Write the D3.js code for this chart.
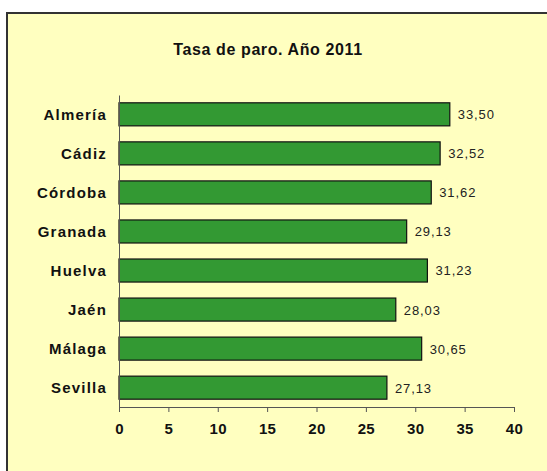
<!DOCTYPE html>
<html><head><meta charset="utf-8">
<script src="https://cdn.jsdelivr.net/npm/d3@7"></script>
<style>body{margin:0;background:#fff;}svg{display:block;font-family:"Liberation Sans",Arial,sans-serif;}</style>
</head><body>
<svg id="c" width="547" height="471"></svg>
<script>
const categories = ["Almería","Cádiz","Córdoba","Granada","Huelva","Jaén","Málaga","Sevilla"];
const values = [33.50, 32.52, 31.62, 29.13, 31.23, 28.03, 30.65, 27.13];
const valueLabels = ["33,50","32,52","31,62","29,13","31,23","28,03","30,65","27,13"];
const xTicks = [0,5,10,15,20,25,30,35,40];
const title = "Tasa de paro. Año 2011";

const svg = d3.select("#c");
// frame
svg.append("rect").attr("x",7).attr("y",13).attr("width",560).attr("height",480)
  .attr("fill","#ffffc0").attr("stroke","#333").attr("stroke-width",2);

const x = d3.scaleLinear().domain([0,40]).range([119,514]);
const y = d3.scaleBand().domain(categories).range([95,407]).paddingInner(0.41).paddingOuter(0.2);

svg.append("text").attr("x",268).attr("y",55).attr("text-anchor","middle")
  .attr("font-size",16).attr("font-weight","bold").attr("letter-spacing",0.6).attr("fill","#111").text(title);

// bars
svg.selectAll("rect.bar").data(values).enter().append("rect").attr("class","bar")
  .attr("x",x(0)).attr("y",(d,i)=>y(categories[i]))
  .attr("width",d=>x(d)-x(0)).attr("height",y.bandwidth())
  .attr("fill","#339933").attr("stroke","#111").attr("stroke-width",1.2);

// value labels
svg.selectAll("text.val").data(values).enter().append("text").attr("class","val")
  .attr("x",d=>x(d)+8).attr("y",(d,i)=>y(categories[i])+y.bandwidth()/2)
  .attr("dy","0.38em").attr("font-size",13).attr("letter-spacing",0.9).attr("fill","#222")
  .text((d,i)=>valueLabels[i]);

// y axis
const yAxis = d3.axisLeft(y).tickSize(0).tickPadding(12);
const gy = svg.append("g").attr("transform",`translate(${x(0)},0)`).call(yAxis);
gy.select(".domain").attr("stroke","#555");
gy.selectAll("text").attr("font-size",15).attr("font-weight","bold").attr("fill","#111")
  .attr("letter-spacing",1.2).attr("dy","0.38em")
  .attr("font-family","Liberation Sans, Arial, sans-serif");

// x axis
const xAxis = d3.axisBottom(x).tickValues(xTicks).tickSize(5).tickSizeOuter(5).tickPadding(11).tickFormat(d3.format("d"));
const gx = svg.append("g").attr("transform","translate(0,407)").call(xAxis);
gx.select(".domain").attr("stroke","#555");
gx.selectAll("line").attr("stroke","#555");
gx.selectAll("text").attr("font-size",15).attr("font-weight","bold").attr("fill","#111")
  .attr("letter-spacing",0.4)
  .attr("font-family","Liberation Sans, Arial, sans-serif");
</script>
</body></html>
